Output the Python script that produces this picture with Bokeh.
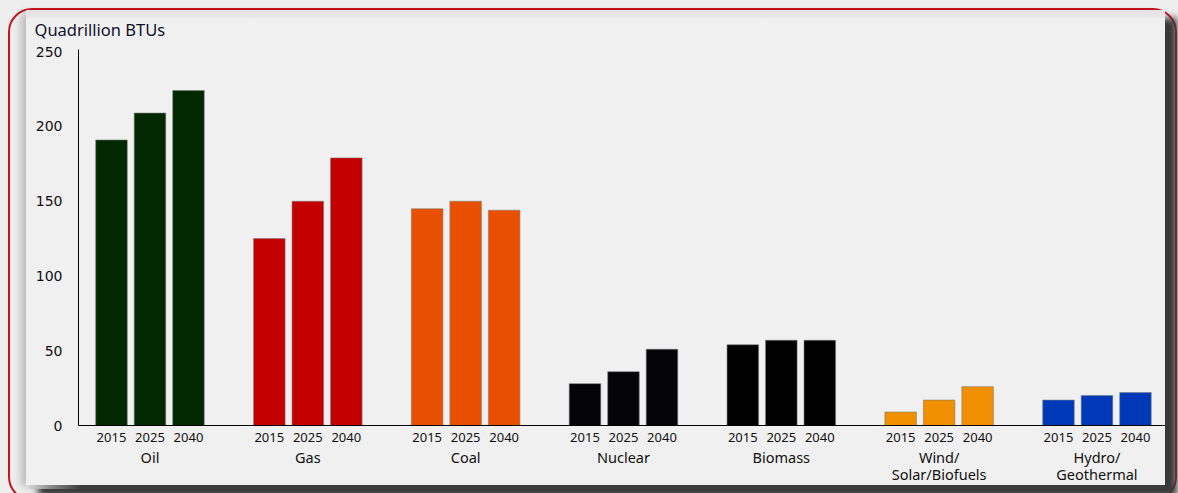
from bokeh.plotting import figure
from bokeh.models import FixedTicker, LinearAxis, Range1d, ColumnDataSource, Column
from bokeh.embed import file_html
from bokeh.resources import INLINE

# ---- data ----
categories = ["Oil", "Gas", "Coal", "Nuclear", "Biomass", "Wind/\nSolar/Biofuels", "Hydro/\nGeothermal"]
years = ["2015", "2025", "2040"]
values_2015 = [191, 125, 145, 28, 54, 9, 17]
values_2025 = [209, 150, 150, 36, 57, 17, 20]
values_2040 = [224, 179, 144, 51, 57, 26, 22]
colors = ["#012801", "#c40000", "#e85000", "#050508", "#000000", "#f09000", "#0039b8"]
y_ticks = [0, 50, 100, 150, 200, 250]
y_title = "Quadrillion BTUs"

# ---- layout params ----
GROUP = 41
STEP = 10
BAR_W = 8.2
FONT = "Noto Sans"

series = [values_2015, values_2025, values_2040]
xs, tops, fills, yrs = [], [], [], []
for i, cat in enumerate(categories):
    for j, yr in enumerate(years):
        xs.append(i * GROUP + j * STEP)
        tops.append(series[j][i])
        fills.append(colors[i])
        yrs.append(yr)
source = ColumnDataSource(dict(x=xs, top=tops, color=fills, year=yrs))

p = figure(width=1139, height=482, output_backend="svg", toolbar_location=None,
           x_range=Range1d(-8.57, 273.8), y_range=Range1d(0, 251.5),
           min_border_left=52, min_border_right=0, min_border_top=40, min_border_bottom=61,
           margin=(-3, 0, 0, 0))
p.background_fill_color = "#f0f0f0"
p.border_fill_alpha = 0
p.outline_line_color = None
p.xgrid.grid_line_color = None
p.ygrid.grid_line_color = None

p.title.text = y_title
p.title.align = "left"
p.title.offset = -44
p.title.standoff = 17
p.title.text_font = FONT
p.title.text_font_size = "16.5px"
p.title.text_font_style = "normal"
p.title.text_color = "#10102a"

p.vbar(x="x", top="top", width=BAR_W, fill_color="color", line_color="#7a7a7a",
       line_width=0.8, line_alpha=0.7, source=source)

# y axis
ya = p.yaxis[0]
ya.ticker = FixedTicker(ticks=y_ticks)
ya.major_tick_line_color = None
ya.major_tick_out = 0
ya.major_tick_in = 0
ya.minor_tick_line_color = None
ya.axis_line_color = "#000000"
ya.axis_line_width = 1
ya.major_label_standoff = 16
ya.major_label_text_font = "DejaVu Sans"
ya.major_label_text_font_size = "14px"
ya.major_label_text_color = "#111111"

# x axis: years
xa = p.xaxis[0]
xa.ticker = FixedTicker(ticks=xs)
xa.major_label_overrides = {x: y for x, y in zip(xs, yrs)}
xa.major_tick_line_color = None
xa.major_tick_out = 0
xa.major_tick_in = 0
xa.minor_tick_line_color = None
xa.axis_line_color = "#000000"
xa.major_label_standoff = 7
xa.major_label_text_font = FONT
xa.major_label_text_font_size = "13px"
xa.major_label_text_color = "#111111"

# x axis: categories
cat_x = [i * GROUP + STEP for i in range(len(categories))]
ca = LinearAxis(ticker=FixedTicker(ticks=cat_x),
                major_label_overrides={x: c for x, c in zip(cat_x, categories)})
ca.axis_line_color = None
ca.major_tick_line_color = None
ca.major_tick_out = 0
ca.major_tick_in = 0
ca.minor_tick_line_color = None
ca.major_label_standoff = 2
ca.major_label_text_font = FONT
ca.major_label_text_font_size = "14.5px"
ca.major_label_text_color = "#111111"
ca.major_label_text_line_height = 0.85
p.add_layout(ca, "below")

panel = Column(children=[p], margin=(0, 10, 30, 16),
               styles={"overflow": "hidden",
                       "background": ("linear-gradient(to right, #dedede 0px, #8a8a8a 25px, #3c3c3c 55px) "
                                      "left bottom / 100% 4px no-repeat, "
                                      "linear-gradient(#e5e2e5 0px, #e9e7e9 8px, #f0f0f0 8px)"),
                       "box-shadow": "12px 8px 7px #383838, -8px 0px 8px -3px rgba(0,0,0,0.22)"})
mid = Column(children=[panel], margin=(8, 0, 0, 8),
             styles={"border": "2px solid #c8141e", "border-radius": "24px"})
outer = Column(children=[mid], width=1178, height=493,
               styles={"background-color": "#eeeeee", "overflow": "hidden"})

open("out.html", "w").write(file_html(outer, INLINE))
